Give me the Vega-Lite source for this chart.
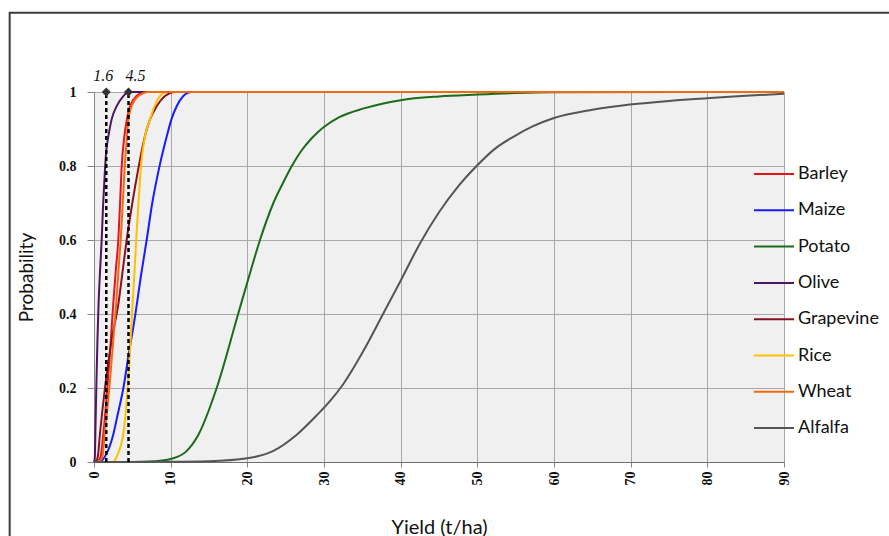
{
  "$schema": "https://vega.github.io/schema/vega-lite/v6.json",
  "width": 690,
  "height": 370,
  "autosize": {"type": "none"},
  "padding": {"left": 94, "top": 92, "right": 105, "bottom": 74},
  "background": "white",
  "config": {
    "view": {"fill": "#f0f0f0", "stroke": "#9a9a9a", "strokeWidth": 1},
    "axis": {
      "gridColor": "#a8a8a8", "gridWidth": 1, "gridOpacity": 1,
      "domainColor": "#868686", "tickColor": "#868686",
      "labelFont": "Liberation Serif", "labelFontWeight": "bold", "labelFontSize": 14, "labelColor": "#111",
      "titleFont": "Lato", "titleFontWeight": "normal", "titleFontSize": 19, "titleColor": "#111"
    },
    "legend": {"labelFont": "Lato", "labelFontSize": 18, "labelColor": "#111"}
  },
  "datasets": {
    "curves": [
      {"crop": "Barley", "x": 0, "p": 0}, {"crop": "Barley", "x": 0.5, "p": 0.002}, {"crop": "Barley", "x": 0.87, "p": 0.015}, {"crop": "Barley", "x": 1.22, "p": 0.077}, {"crop": "Barley", "x": 1.74, "p": 0.2}, {"crop": "Barley", "x": 2.1, "p": 0.3}, {"crop": "Barley", "x": 2.52, "p": 0.43}, {"crop": "Barley", "x": 2.85, "p": 0.52}, {"crop": "Barley", "x": 3.17, "p": 0.6}, {"crop": "Barley", "x": 3.4, "p": 0.7}, {"crop": "Barley", "x": 3.6, "p": 0.795}, {"crop": "Barley", "x": 3.96, "p": 0.881}, {"crop": "Barley", "x": 4.3, "p": 0.926}, {"crop": "Barley", "x": 4.7, "p": 0.962}, {"crop": "Barley", "x": 5.56, "p": 0.989}, {"crop": "Barley", "x": 6.65, "p": 1}, {"crop": "Barley", "x": 90, "p": 1},

      {"crop": "Maize", "x": 0, "p": 0}, {"crop": "Maize", "x": 0.8, "p": 0.002}, {"crop": "Maize", "x": 1.43, "p": 0.015}, {"crop": "Maize", "x": 2.52, "p": 0.075}, {"crop": "Maize", "x": 3.0, "p": 0.12}, {"crop": "Maize", "x": 3.83, "p": 0.2}, {"crop": "Maize", "x": 4.6, "p": 0.3}, {"crop": "Maize", "x": 5.4, "p": 0.4}, {"crop": "Maize", "x": 6.1, "p": 0.5}, {"crop": "Maize", "x": 6.87, "p": 0.6}, {"crop": "Maize", "x": 7.6, "p": 0.7}, {"crop": "Maize", "x": 8.5, "p": 0.795}, {"crop": "Maize", "x": 9.5, "p": 0.881}, {"crop": "Maize", "x": 10.1, "p": 0.926}, {"crop": "Maize", "x": 10.8, "p": 0.962}, {"crop": "Maize", "x": 11.65, "p": 0.989}, {"crop": "Maize", "x": 12.7, "p": 1}, {"crop": "Maize", "x": 90, "p": 1},

      {"crop": "Potato", "x": 0, "p": 0}, {"crop": "Potato", "x": 5, "p": 0}, {"crop": "Potato", "x": 8, "p": 0.002}, {"crop": "Potato", "x": 10, "p": 0.008}, {"crop": "Potato", "x": 12, "p": 0.028}, {"crop": "Potato", "x": 13.6, "p": 0.073}, {"crop": "Potato", "x": 16, "p": 0.2}, {"crop": "Potato", "x": 18.8, "p": 0.4}, {"crop": "Potato", "x": 20.2, "p": 0.5}, {"crop": "Potato", "x": 21.65, "p": 0.6}, {"crop": "Potato", "x": 23.4, "p": 0.7}, {"crop": "Potato", "x": 24.6, "p": 0.752}, {"crop": "Potato", "x": 25.8, "p": 0.8}, {"crop": "Potato", "x": 27, "p": 0.84}, {"crop": "Potato", "x": 28.4, "p": 0.875}, {"crop": "Potato", "x": 29.9, "p": 0.904}, {"crop": "Potato", "x": 32, "p": 0.932}, {"crop": "Potato", "x": 35.1, "p": 0.955}, {"crop": "Potato", "x": 40, "p": 0.978}, {"crop": "Potato", "x": 45, "p": 0.988}, {"crop": "Potato", "x": 50, "p": 0.993}, {"crop": "Potato", "x": 55, "p": 0.997}, {"crop": "Potato", "x": 60, "p": 0.999}, {"crop": "Potato", "x": 90, "p": 1},

      {"crop": "Olive", "x": 0, "p": 0}, {"crop": "Olive", "x": 0.1, "p": 0.01}, {"crop": "Olive", "x": 0.2, "p": 0.1}, {"crop": "Olive", "x": 0.3, "p": 0.2}, {"crop": "Olive", "x": 0.45, "p": 0.33}, {"crop": "Olive", "x": 0.6, "p": 0.43}, {"crop": "Olive", "x": 0.8, "p": 0.52}, {"crop": "Olive", "x": 1.0, "p": 0.6}, {"crop": "Olive", "x": 1.2, "p": 0.7}, {"crop": "Olive", "x": 1.43, "p": 0.79}, {"crop": "Olive", "x": 1.6, "p": 0.84}, {"crop": "Olive", "x": 1.87, "p": 0.88}, {"crop": "Olive", "x": 2.3, "p": 0.926}, {"crop": "Olive", "x": 2.96, "p": 0.962}, {"crop": "Olive", "x": 3.83, "p": 0.989}, {"crop": "Olive", "x": 4.5, "p": 1}, {"crop": "Olive", "x": 90, "p": 1},

      {"crop": "Grapevine", "x": 0, "p": 0}, {"crop": "Grapevine", "x": 0.3, "p": 0.003}, {"crop": "Grapevine", "x": 0.5, "p": 0.015}, {"crop": "Grapevine", "x": 0.78, "p": 0.077}, {"crop": "Grapevine", "x": 1.43, "p": 0.2}, {"crop": "Grapevine", "x": 2.3, "p": 0.33}, {"crop": "Grapevine", "x": 3.2, "p": 0.43}, {"crop": "Grapevine", "x": 3.7, "p": 0.51}, {"crop": "Grapevine", "x": 4.26, "p": 0.6}, {"crop": "Grapevine", "x": 5.0, "p": 0.7}, {"crop": "Grapevine", "x": 5.8, "p": 0.795}, {"crop": "Grapevine", "x": 6.65, "p": 0.881}, {"crop": "Grapevine", "x": 7.3, "p": 0.926}, {"crop": "Grapevine", "x": 8.2, "p": 0.962}, {"crop": "Grapevine", "x": 9.26, "p": 0.989}, {"crop": "Grapevine", "x": 10.6, "p": 1}, {"crop": "Grapevine", "x": 90, "p": 1},

      {"crop": "Rice", "x": 0, "p": 0}, {"crop": "Rice", "x": 2.5, "p": 0}, {"crop": "Rice", "x": 2.96, "p": 0.015}, {"crop": "Rice", "x": 3.83, "p": 0.077}, {"crop": "Rice", "x": 4.39, "p": 0.2}, {"crop": "Rice", "x": 4.7, "p": 0.3}, {"crop": "Rice", "x": 5.04, "p": 0.43}, {"crop": "Rice", "x": 5.3, "p": 0.52}, {"crop": "Rice", "x": 5.5, "p": 0.6}, {"crop": "Rice", "x": 5.8, "p": 0.7}, {"crop": "Rice", "x": 6.13, "p": 0.8}, {"crop": "Rice", "x": 6.65, "p": 0.88}, {"crop": "Rice", "x": 7.3, "p": 0.926}, {"crop": "Rice", "x": 7.9, "p": 0.962}, {"crop": "Rice", "x": 8.6, "p": 0.989}, {"crop": "Rice", "x": 9.5, "p": 1}, {"crop": "Rice", "x": 90, "p": 1},

      {"crop": "Wheat", "x": 0, "p": 0}, {"crop": "Wheat", "x": 0.7, "p": 0.002}, {"crop": "Wheat", "x": 1.1, "p": 0.015}, {"crop": "Wheat", "x": 1.4, "p": 0.077}, {"crop": "Wheat", "x": 2.0, "p": 0.2}, {"crop": "Wheat", "x": 2.4, "p": 0.3}, {"crop": "Wheat", "x": 2.9, "p": 0.43}, {"crop": "Wheat", "x": 3.2, "p": 0.52}, {"crop": "Wheat", "x": 3.48, "p": 0.6}, {"crop": "Wheat", "x": 3.75, "p": 0.7}, {"crop": "Wheat", "x": 4.0, "p": 0.795}, {"crop": "Wheat", "x": 4.3, "p": 0.881}, {"crop": "Wheat", "x": 4.5, "p": 0.926}, {"crop": "Wheat", "x": 4.9, "p": 0.962}, {"crop": "Wheat", "x": 5.8, "p": 0.989}, {"crop": "Wheat", "x": 7.1, "p": 1}, {"crop": "Wheat", "x": 90, "p": 1},

      {"crop": "Alfalfa", "x": 0, "p": 0}, {"crop": "Alfalfa", "x": 10, "p": 0.0005}, {"crop": "Alfalfa", "x": 15, "p": 0.002}, {"crop": "Alfalfa", "x": 20, "p": 0.01}, {"crop": "Alfalfa", "x": 23.4, "p": 0.03}, {"crop": "Alfalfa", "x": 26.4, "p": 0.073}, {"crop": "Alfalfa", "x": 29, "p": 0.125}, {"crop": "Alfalfa", "x": 30.8, "p": 0.165}, {"crop": "Alfalfa", "x": 32.5, "p": 0.21}, {"crop": "Alfalfa", "x": 35, "p": 0.295}, {"crop": "Alfalfa", "x": 37.7, "p": 0.4}, {"crop": "Alfalfa", "x": 40, "p": 0.49}, {"crop": "Alfalfa", "x": 42.5, "p": 0.59}, {"crop": "Alfalfa", "x": 45, "p": 0.675}, {"crop": "Alfalfa", "x": 47.5, "p": 0.745}, {"crop": "Alfalfa", "x": 49.9, "p": 0.8}, {"crop": "Alfalfa", "x": 52.2, "p": 0.845}, {"crop": "Alfalfa", "x": 54.7, "p": 0.879}, {"crop": "Alfalfa", "x": 57.2, "p": 0.907}, {"crop": "Alfalfa", "x": 59.9, "p": 0.929}, {"crop": "Alfalfa", "x": 65, "p": 0.952}, {"crop": "Alfalfa", "x": 69.9, "p": 0.966}, {"crop": "Alfalfa", "x": 75, "p": 0.976}, {"crop": "Alfalfa", "x": 79.9, "p": 0.983}, {"crop": "Alfalfa", "x": 85, "p": 0.99}, {"crop": "Alfalfa", "x": 90, "p": 0.995}
    ],
    "marks": [
      {"x": 1.6, "label": "1.6"},
      {"x": 4.5, "label": "4.5"}
    ]
  },
  "layer": [
    {
      "data": {"values": [{"x0": -11, "x1": 112, "y0": 1.214, "y1": -0.3}]},
      "mark": {"type": "rect", "fill": null, "fillOpacity": 0, "stroke": "#3c3c3c", "strokeWidth": 2, "clip": false},
      "encoding": {
        "x": {"field": "x0", "type": "quantitative"},
        "x2": {"field": "x1"},
        "y": {"field": "y0", "type": "quantitative"},
        "y2": {"field": "y1"}
      }
    },
    {
      "data": {"name": "curves"},
      "mark": {"type": "line", "strokeWidth": 2, "clip": false, "interpolate": "monotone"},
      "encoding": {
        "x": {
          "field": "x", "type": "quantitative",
          "scale": {"domain": [0, 90], "nice": false},
          "axis": {"values": [0, 10, 20, 30, 40, 50, 60, 70, 80, 90], "labelAngle": -90, "title": "Yield (t/ha)", "titleFontSize": 20, "tickSize": 5, "labelPadding": 4, "titlePadding": 32, "domainColor": "#6e6e6e"}
        },
        "y": {
          "field": "p", "type": "quantitative",
          "scale": {"domain": [0, 1], "nice": false},
          "axis": {"values": [0, 0.2, 0.4, 0.6, 0.8, 1], "format": "~g", "title": "Probability", "tickSize": 7, "labelPadding": 11, "titlePadding": 22}
        },
        "color": {
          "field": "crop", "type": "nominal",
          "scale": {
            "domain": ["Barley", "Maize", "Potato", "Olive", "Grapevine", "Rice", "Wheat", "Alfalfa"],
            "range": ["#e3141b", "#1a1aff", "#1a6b1a", "#4e1560", "#8b0f22", "#ffc000", "#f26a10", "#555555"]
          },
          "sort": ["Barley", "Maize", "Potato", "Olive", "Grapevine", "Rice", "Wheat", "Alfalfa"],
          "legend": {
            "title": null, "orient": "none", "legendX": 659, "legendY": 61,
            "symbolType": "stroke", "symbolSize": 1600, "symbolStrokeWidth": 2,
            "rowPadding": 6.3, "labelOffset": 3, "padding": 0
          }
        }
      }
    },
    {
      "data": {"name": "marks"},
      "mark": {"type": "rule", "color": "#000", "strokeWidth": 2.5, "strokeDash": [4, 3]},
      "encoding": {
        "x": {"field": "x", "type": "quantitative"},
        "y": {"datum": 0},
        "y2": {"datum": 1}
      }
    },
    {
      "data": {"name": "marks"},
      "mark": {"type": "point", "shape": "diamond", "filled": true, "color": "#333", "size": 80, "opacity": 1},
      "encoding": {
        "x": {"field": "x", "type": "quantitative"},
        "y": {"datum": 1}
      }
    },
    {
      "data": {"name": "marks"},
      "transform": [{"filter": "datum.label == '1.6'"}],
      "mark": {"type": "text", "font": "Liberation Serif", "fontStyle": "italic", "fontSize": 16, "color": "#111", "dy": -11, "dx": -3, "baseline": "alphabetic"},
      "encoding": {
        "x": {"field": "x", "type": "quantitative"},
        "y": {"datum": 1},
        "text": {"field": "label"}
      }
    },
    {
      "data": {"name": "marks"},
      "transform": [{"filter": "datum.label == '4.5'"}],
      "mark": {"type": "text", "font": "Liberation Serif", "fontStyle": "italic", "fontSize": 16, "color": "#111", "dy": -11, "dx": 7, "baseline": "alphabetic"},
      "encoding": {
        "x": {"field": "x", "type": "quantitative"},
        "y": {"datum": 1},
        "text": {"field": "label"}
      }
    }
  ]
}
